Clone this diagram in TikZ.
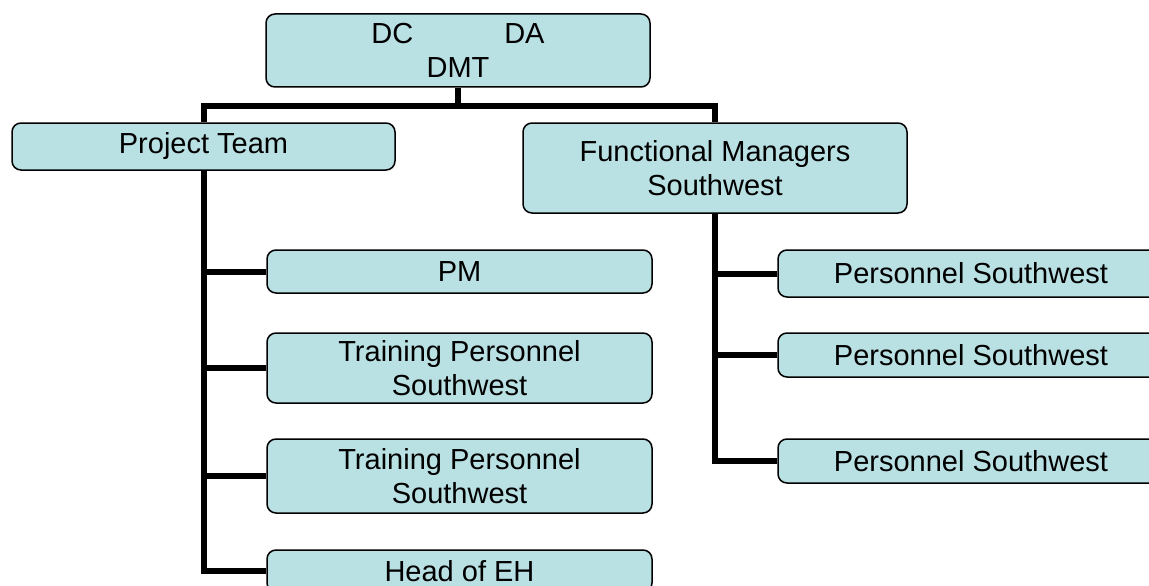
\documentclass[tikz,border=0pt]{standalone}
\usepackage{fontspec}
\usetikzlibrary{calc}
\setmainfont{Liberation Sans}
\definecolor{boxfill}{RGB}{185,224,227}
\begin{document}
\begin{tikzpicture}[x=1pt,y=-1pt,
  orgbox/.style={draw=black, line width=1.5pt, fill=boxfill, rounded corners=9pt,
    align=center, inner sep=0pt, font=\fontsize{29}{34}\selectfont},
  conn/.style={draw=black, line width=6pt}]
\useasboundingbox (0,0) rectangle (1149,586);
\clip (0,0) rectangle (1149,586);

% top level
\node[orgbox, minimum width=384pt, minimum height=73pt] (top) at (458,50.5)
  {DC\hspace{91pt}DA\\DMT};

% second level
\node[orgbox, minimum width=383pt, minimum height=47pt] (pt) at (203.5,146.5) {Project Team};
\node[orgbox, minimum width=384pt, minimum height=90pt] (fm) at (715,168) {Functional Managers\\Southwest};

% project team members
\node[orgbox, minimum width=385pt, minimum height=43pt] (pm) at (459.5,271.5) {PM};
\node[orgbox, minimum width=385pt, minimum height=70pt] (tp1) at (459.5,368) {Training Personnel\\Southwest};
\node[orgbox, minimum width=385pt, minimum height=74pt] (tp2) at (459.5,476) {Training Personnel\\Southwest};
\node[orgbox, minimum width=385pt, minimum height=42pt] (eh) at (459.5,571) {Head of EH};

% functional staff
\node[orgbox, minimum width=386pt, minimum height=47pt] (ps1) at (971,273.5) {Personnel Southwest};
\node[orgbox, minimum width=386pt, minimum height=44pt] (ps2) at (971,355) {Personnel Southwest};
\node[orgbox, minimum width=386pt, minimum height=44pt] (ps3) at (971,461) {Personnel Southwest};

% connectors
\coordinate (bus) at ($(top.south)+(0,18)$);
\draw[conn] (top.south) -- (bus);
\draw[conn] (pt.north) |- (bus) -| (fm.north);

\draw[conn] (pt.south) |- (eh.west);
\draw[conn] (pt.south |- pm.west) -- (pm.west);
\draw[conn] (pt.south |- tp1.west) -- (tp1.west);
\draw[conn] (pt.south |- tp2.west) -- (tp2.west);

\draw[conn] (fm.south) |- (ps3.west);
\draw[conn] (fm.south |- ps1.west) -- (ps1.west);
\draw[conn] (fm.south |- ps2.west) -- (ps2.west);
\end{tikzpicture}
\end{document}
